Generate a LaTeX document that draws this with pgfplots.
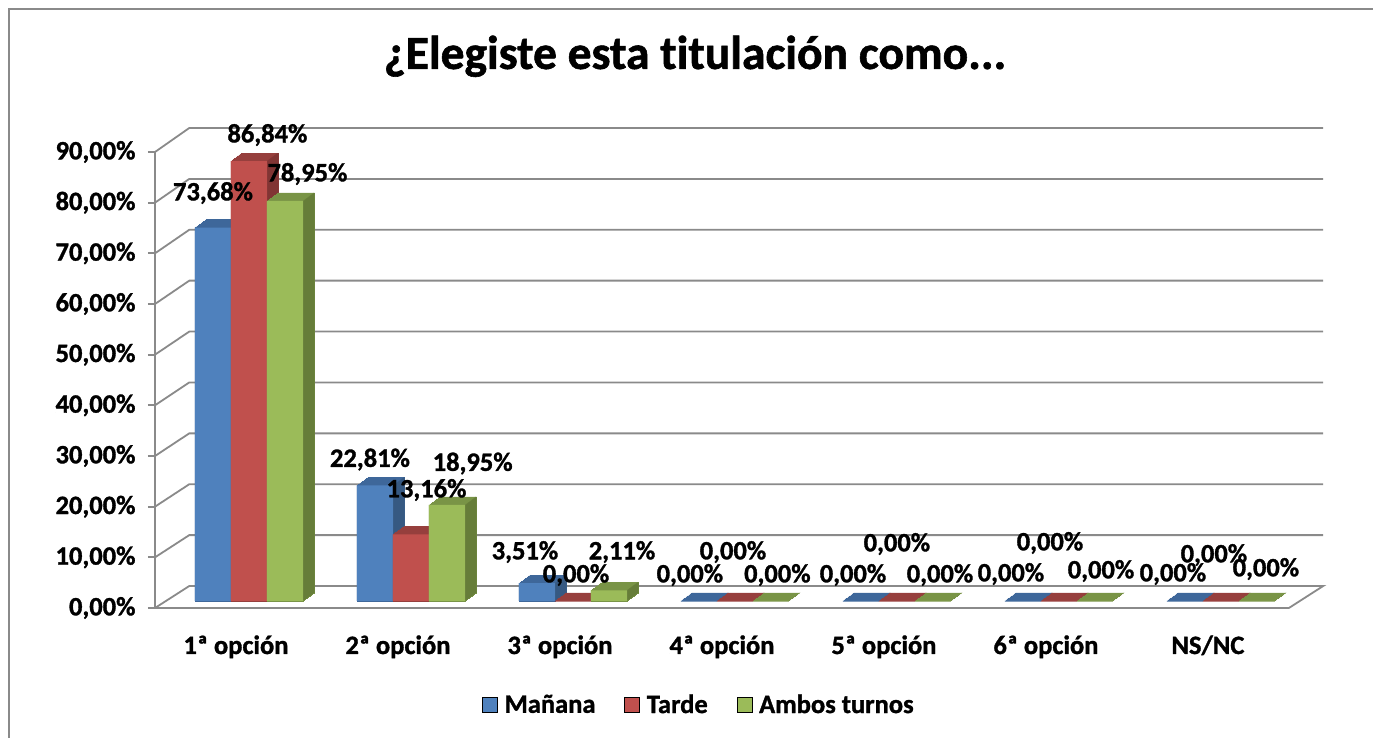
\documentclass[border=0pt]{standalone}
\usepackage{fontspec}
\setmainfont{Carlito}[Ligatures=NoCommon, BoldFeatures={FakeBold=1.2}]
\usepackage{pgfplots}
\usepackage{pgfplotstable}
\pgfplotsset{compat=1.18}
\definecolor{cBlue}{HTML}{4F81BD}
\definecolor{cRed}{HTML}{C0504D}
\definecolor{cGreen}{HTML}{9BBB59}
\definecolor{tBlue}{HTML}{3E679A}
\definecolor{tRed}{HTML}{963F3D}
\definecolor{tGreen}{HTML}{799446}
\definecolor{sBlue}{HTML}{36587F}
\definecolor{sRed}{HTML}{7F3433}
\definecolor{sGreen}{HTML}{647B38}
\definecolor{gridc}{HTML}{8A8A8A}
\newcommand{\lblfont}{\bfseries\fontsize{26.5}{30}\selectfont}
\newcommand{\ttlfont}{\bfseries\fontsize{47.5}{56}\selectfont}

\pgfplotstableread{
x manana tarde ambos
0 73.68 86.84 78.95
1 22.81 13.16 18.95
2 3.51 0 2.11
3 0 0 0
4 0 0 0
5 0 0 0
6 0 0 0
}\data

% #1 column, #2 front colour, #3 top colour, #4 side colour, #5 bar shift, #6 side-strip shift
\newcommand{\barseries}[6]{%
  \pgfplotsinvokeforeach{11,10,...,0}{%
    \addplot[forget plot, ybar, bar width=36pt, bar shift=#5, fill=#3, draw=#3, line width=0.8pt,
      xshift={13pt+##1pt}, yshift={7pt+##1*0.7273pt}] table[x=x, y=#1] {\data};
  }%
  \pgfplotsinvokeforeach{11,10,...,1}{%
    \addplot[forget plot, ybar, bar width=1.3pt, bar shift=#6, fill=#4, draw=none,
      xshift={13pt+##1pt}, yshift={7pt+##1*0.7273pt}] table[x=x, y=#1] {\data};
  }%
  \addplot[forget plot, ybar, bar width=36pt, bar shift=#5, fill=#2, draw=none,
    xshift=13pt, yshift=7pt] table[x=x, y=#1] {\data};
}

\begin{document}
\begin{tikzpicture}
\useasboundingbox (-155pt,-130pt) rectangle (1218pt,608pt);
\draw[gridc, line width=1.5pt] (-146pt,-140pt) -- (-146pt,599pt) -- (1230pt,599pt);
\begin{axis}[
  at={(0pt,0pt)}, anchor=south west,
  scale only axis, width=1134pt, height=456pt,
  xmin=-0.5, xmax=6.5, ymin=0, ymax=90,
  clip=false,
  axis lines*=left,
  axis line style={gridc, line width=1.8pt},
  tick align=outside, major tick length=7pt,
  ytick={0,10,...,90},
  yticklabels={{0,00\%},{10,00\%},{20,00\%},{30,00\%},{40,00\%},{50,00\%},{60,00\%},{70,00\%},{80,00\%},{90,00\%}},
  xtick={0,...,6},
  xticklabels={1ª opción,2ª opción,3ª opción,4ª opción,5ª opción,6ª opción,NS/NC},
  xtick style={draw=none},
  ytick style={gridc, line width=1.8pt},
  ticklabel style={font=\lblfont},
  yticklabel style={xshift=-9pt},
  xticklabel style={anchor=base, yshift=-39pt},
  title={¿Elegiste esta titulación como...},
  title style={font=\ttlfont, at={(0.4762,1.1690)}, anchor=base},
  legend columns=3,
  legend style={draw=none, at={(0.4797,-0.2116)}, anchor=center, font=\lblfont,
    /tikz/every odd column/.append style={column sep=5pt},
    /tikz/every even column/.append style={column sep=27pt}},
  legend image code/.code={\fill[#1] (0pt,-7.5pt) rectangle (15pt,7.5pt);},
]
% back wall and floor
\addplot[forget plot, gridc, line width=1.8pt] coordinates {(-0.5,0)(-0.2883,4.342)(6.7117,4.342)(6.5,0)};
\addplot[forget plot, gridc, line width=1.8pt] coordinates {(-0.5,10)(-0.2883,14.386)(6.7117,14.386)};
\addplot[forget plot, gridc, line width=1.8pt] coordinates {(-0.5,20)(-0.2883,24.430)(6.7117,24.430)};
\addplot[forget plot, gridc, line width=1.8pt] coordinates {(-0.5,30)(-0.2883,34.470)(6.7117,34.470)};
\addplot[forget plot, gridc, line width=1.8pt] coordinates {(-0.5,40)(-0.2883,44.520)(6.7117,44.520)};
\addplot[forget plot, gridc, line width=1.8pt] coordinates {(-0.5,50)(-0.2883,54.560)(6.7117,54.560)};
\addplot[forget plot, gridc, line width=1.8pt] coordinates {(-0.5,60)(-0.2883,64.610)(6.7117,64.610)};
\addplot[forget plot, gridc, line width=1.8pt] coordinates {(-0.5,70)(-0.2883,74.650)(6.7117,74.650)};
\addplot[forget plot, gridc, line width=1.8pt] coordinates {(-0.5,80)(-0.2883,84.690)(6.7117,84.690)};
\addplot[forget plot, gridc, line width=1.8pt] coordinates {(-0.5,90)(-0.2883,94.740)(6.7117,94.740)};

% bars
\barseries{manana}{cBlue}{tBlue}{sBlue}{-36pt}{-18pt}
\barseries{tarde}{cRed}{tRed}{sRed}{0pt}{18pt}
\barseries{ambos}{cGreen}{tGreen}{sGreen}{36pt}{54pt}

% data labels
\addplot[forget plot, draw=none, mark=none, nodes near coords, point meta=explicit symbolic,
  every node near coord/.append style={anchor=center, font=\lblfont, inner sep=0pt, text=black}]
  coordinates {
  (-0.142,81.9) [73,68\%]
  (0.194,93.35) [86,84\%]
  (0.441,85.66) [78,95\%]
  (0.827,29.31) [22,81\%]
  (1.176,23.29) [13,16\%]
  (1.461,28.52) [18,95\%]
  (1.784,11.05) [3,51\%]
  (2.099,6.51) [0,00\%]
  (2.383,11.05) [2,11\%]
  (2.802,6.51) [0,00\%]
  (3.068,11.05) [0,00\%]
  (3.342,6.51) [0,00\%]
  (3.809,6.51) [0,00\%]
  (4.080,12.63) [0,00\%]
  (4.346,6.51) [0,00\%]
  (4.784,6.71) [0,00\%]
  (5.025,12.83) [0,00\%]
  (5.340,7.30) [0,00\%]
  (5.784,6.71) [0,00\%]
  (6.037,10.46) [0,00\%]
  (6.358,7.70) [0,00\%]
  };

\addlegendimage{fill=cBlue}
\addlegendentry{Mañana}
\addlegendimage{fill=cRed}
\addlegendentry{Tarde}
\addlegendimage{fill=cGreen}
\addlegendentry{Ambos turnos}
\end{axis}
\end{tikzpicture}
\end{document}
